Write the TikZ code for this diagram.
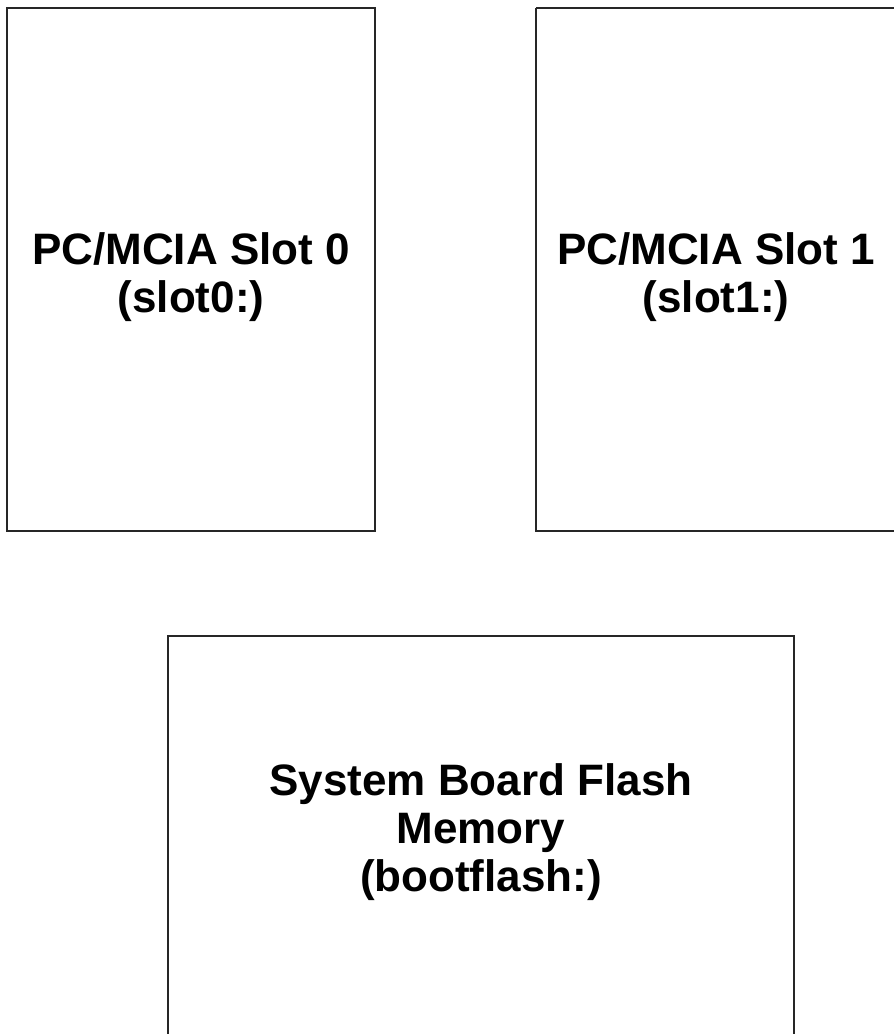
\documentclass[tikz,border=0pt]{standalone}
\usepackage{fontspec}
\setmainfont{Liberation Sans}
\begin{document}
\begin{tikzpicture}[x=1pt,y=-1pt,
  slotbox/.style={draw=black!85,line width=1.6pt},
  lbl/.style={align=center,font=\fontsize{44}{48}\selectfont\bfseries,inner sep=0pt}]
\useasboundingbox (0,0) rectangle (894,1034);
\draw[slotbox] (7,8) rectangle (375,531);
\draw[slotbox] (536,8) -- (536,531) -- (900,531);
\draw[slotbox] (536,8) -- (900,8);
\draw[slotbox] (168,1040) -- (168,636) -- (794,636) -- (794,1040);
\node[lbl] (s0) at (191,277) {PC/MCIA Slot 0\\(slot0:)};
\node[lbl] (s1) at (716,277) {PC/MCIA Slot 1\\(slot1:)};
\node[lbl] (bf) at (481,832) {System Board Flash\\Memory\\(bootflash:)};
\end{tikzpicture}
\end{document}
